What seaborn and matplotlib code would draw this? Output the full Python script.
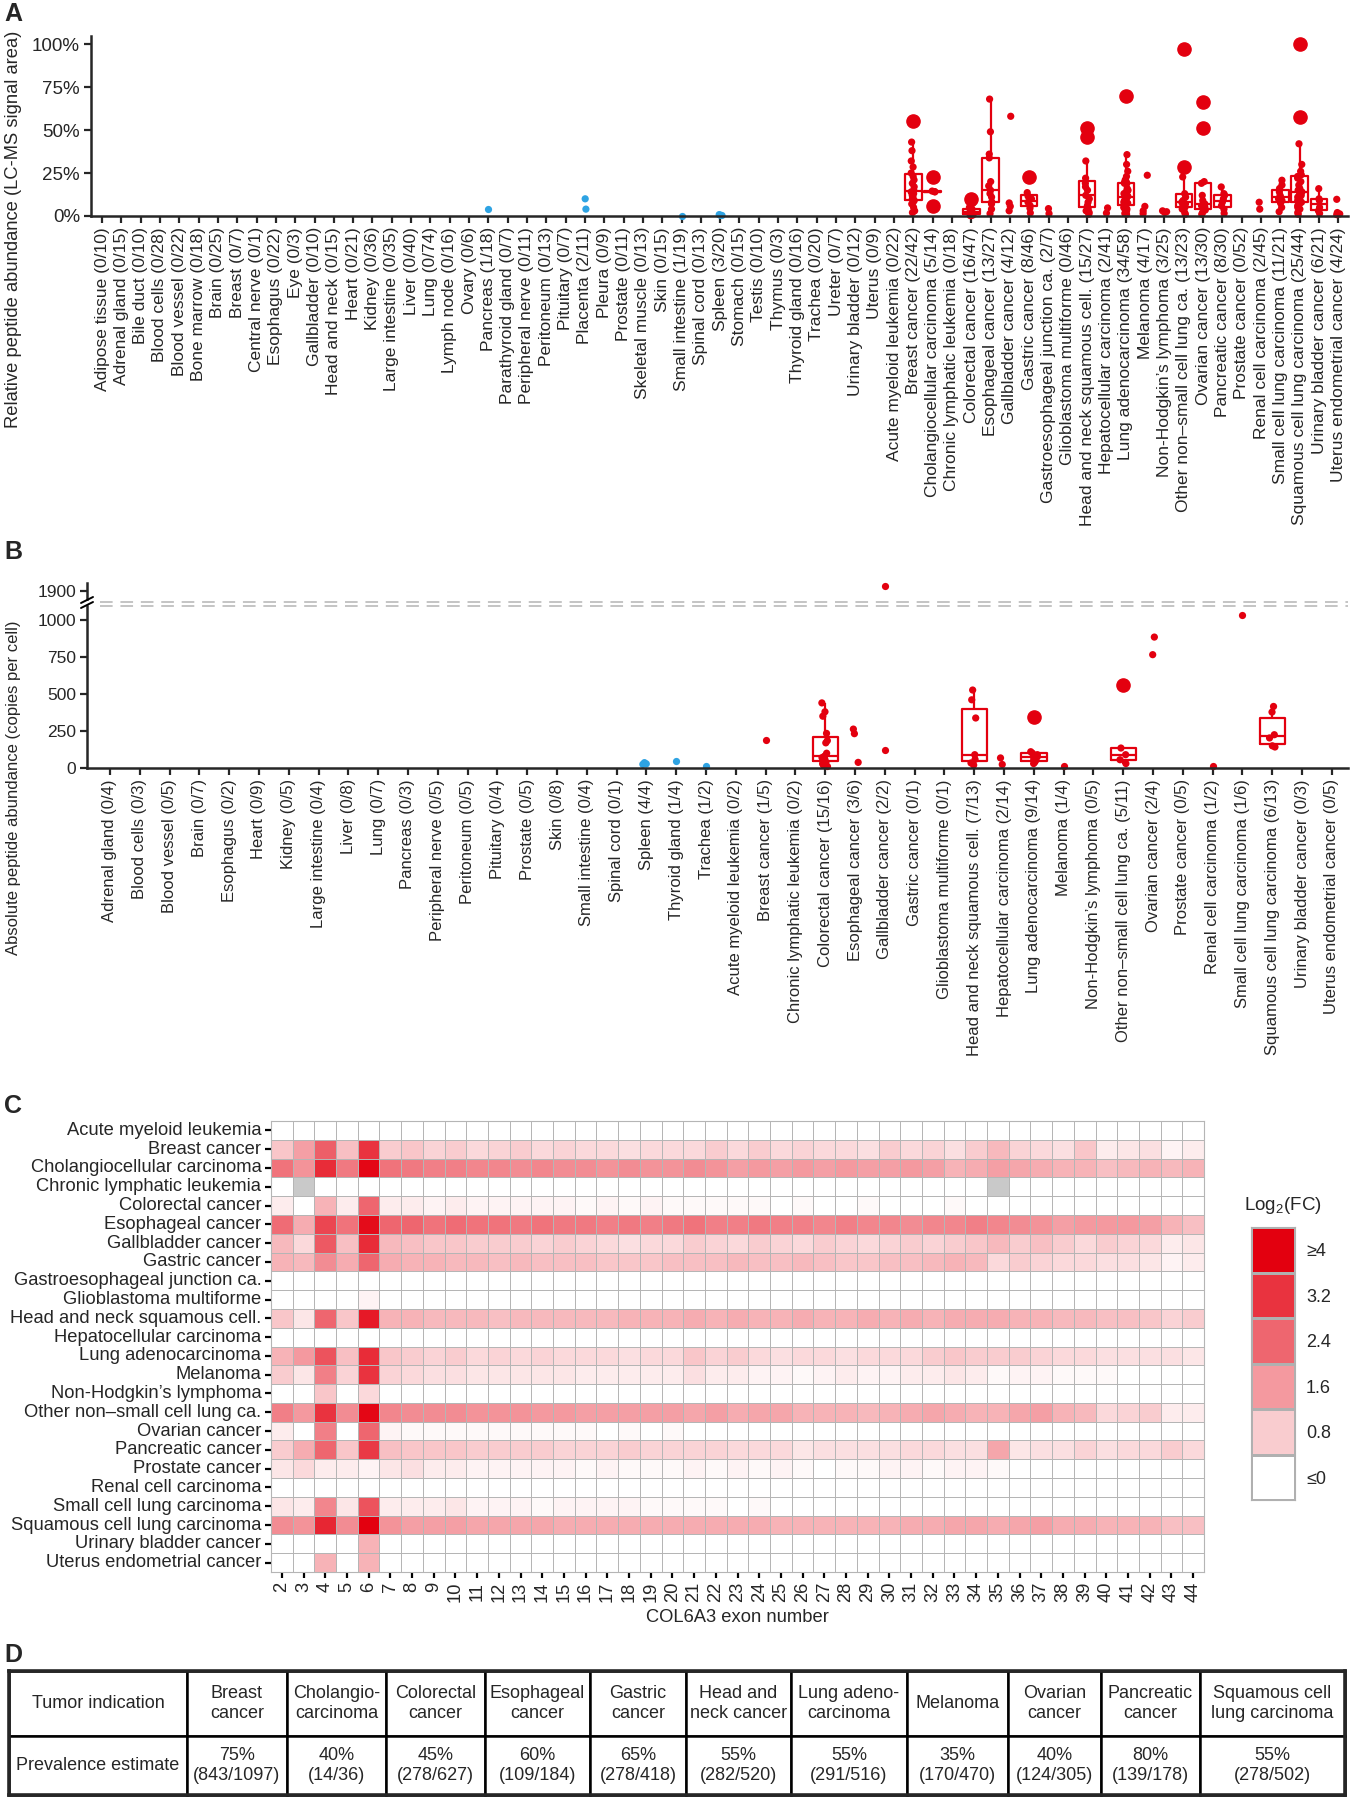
import numpy as np
import pandas as pd
import seaborn as sns
import matplotlib.pyplot as plt
from matplotlib.colors import LinearSegmentedColormap
from matplotlib.lines import Line2D
from matplotlib.ticker import PercentFormatter

sns.set_style('ticks')
plt.rcParams['font.family'] = ['Liberation Sans', 'DejaVu Sans']
plt.rcParams['mathtext.fontset'] = 'custom'
plt.rcParams['mathtext.rm'] = 'Liberation Sans'

RED = '#e3000f'
BLUE = '#2ea3e3'

# ---------------- panel A : relative abundance (LC-MS) ----------------
a_normal = ['Adipose tissue', 'Adrenal gland', 'Bile duct', 'Blood cells', 'Blood vessel',
            'Bone marrow', 'Brain', 'Breast', 'Central nerve', 'Esophagus', 'Eye', 'Gallbladder',
            'Head and neck', 'Heart', 'Kidney', 'Large intestine', 'Liver', 'Lung', 'Lymph node',
            'Ovary', 'Pancreas', 'Parathyroid gland', 'Peripheral nerve', 'Peritoneum', 'Pituitary',
            'Placenta', 'Pleura', 'Prostate', 'Skeletal muscle', 'Skin', 'Small intestine',
            'Spinal cord', 'Spleen', 'Stomach', 'Testis', 'Thymus', 'Thyroid gland', 'Trachea',
            'Ureter', 'Urinary bladder', 'Uterus']
a_normal_n = ['0/10', '0/15', '0/10', '0/28', '0/22', '0/18', '0/25', '0/7', '0/1', '0/22', '0/3',
              '0/10', '0/15', '0/21', '0/36', '0/35', '0/40', '0/74', '0/16', '0/6', '1/18', '0/7',
              '0/11', '0/13', '0/7', '2/11', '0/9', '0/11', '0/13', '0/15', '1/19', '0/13', '3/20',
              '0/15', '0/10', '0/3', '0/16', '0/20', '0/7', '0/12', '0/9']
a_tumor = ['Acute myeloid leukemia', 'Breast cancer', 'Cholangiocellular carcinoma',
           'Chronic lymphatic leukemia', 'Colorectal cancer', 'Esophageal cancer',
           'Gallbladder cancer', 'Gastric cancer', 'Gastroesophageal junction ca.',
           'Glioblastoma multiforme', 'Head and neck squamous cell.', 'Hepatocellular carcinoma',
           'Lung adenocarcinoma', 'Melanoma', 'Non-Hodgkin\u2019s lymphoma',
           'Other non\u2013small cell lung ca.', 'Ovarian cancer', 'Pancreatic cancer',
           'Prostate cancer', 'Renal cell carcinoma', 'Small cell lung carcinoma',
           'Squamous cell lung carcinoma', 'Urinary bladder cancer', 'Uterus endometrial cancer']
a_tumor_n = ['0/22', '22/42', '5/14', '0/18', '16/47', '13/27', '4/12', '8/46', '2/7', '0/46',
             '15/27', '2/41', '34/58', '4/17', '3/25', '13/23', '13/30', '8/30', '0/52', '2/45',
             '11/21', '25/44', '6/21', '4/24']

a_pancreas = [0.043]
a_placenta = [0.10, 0.04]
a_small_intestine = [0.0]
a_spleen = [0.008, 0.005, 0.003]
a_breast_cancer = [0.55, 0.43, 0.38, 0.32, 0.285, 0.25, 0.23, 0.21, 0.19, 0.17, 0.15, 0.14,
                   0.13, 0.12, 0.11, 0.10, 0.09, 0.08, 0.07, 0.05, 0.03, 0.02]
a_cholangio = [0.227, 0.145, 0.142, 0.14, 0.058]
a_colorectal = [0.10, 0.075, 0.06, 0.05, 0.04, 0.035, 0.03, 0.025, 0.02, 0.015, 0.012, 0.01,
                0.008, 0.006, 0.004, 0.002]
a_esophageal = [0.68, 0.49, 0.36, 0.338, 0.2, 0.175, 0.15, 0.13, 0.11, 0.082, 0.07, 0.04, 0.014]
a_gallbladder = [0.58, 0.076, 0.056, 0.03]
a_gastric = [0.227, 0.136, 0.115, 0.10, 0.08, 0.06, 0.045, 0.018]
a_gej = [0.043, 0.014]
a_hnscc = [0.51, 0.46, 0.32, 0.22, 0.19, 0.17, 0.15, 0.12, 0.10, 0.08, 0.06, 0.04, 0.03, 0.02, 0.01]
a_hcc = [0.047, 0.017]
a_luad = [0.70, 0.357, 0.30, 0.26, 0.23, 0.21, 0.20, 0.195, 0.19, 0.19, 0.16, 0.15, 0.145, 0.14,
          0.13, 0.12, 0.115, 0.11, 0.10, 0.095, 0.09, 0.085, 0.08, 0.075, 0.07, 0.065, 0.06,
          0.05, 0.045, 0.04, 0.03, 0.02, 0.015, 0.01]
a_melanoma = [0.237, 0.056, 0.03, 0.014]
a_nhl = [0.03, 0.025, 0.02]
a_onsclc = [0.97, 0.285, 0.227, 0.13, 0.11, 0.09, 0.08, 0.07, 0.06, 0.05, 0.04, 0.02, 0.01]
a_ovarian = [0.664, 0.509, 0.20, 0.19, 0.12, 0.09, 0.07, 0.06, 0.05, 0.04, 0.035, 0.02, 0.01]
a_pancreatic = [0.169, 0.13, 0.12, 0.10, 0.08, 0.06, 0.04, 0.015]
a_rcc = [0.08, 0.04]
a_sclc = [0.208, 0.18, 0.16, 0.14, 0.12, 0.11, 0.10, 0.09, 0.075, 0.05, 0.025]
a_sqclc = [1.0, 0.577, 0.42, 0.30, 0.26, 0.24, 0.23, 0.22, 0.20, 0.18, 0.16, 0.15, 0.14, 0.13,
           0.12, 0.11, 0.10, 0.09, 0.08, 0.07, 0.06, 0.05, 0.04, 0.02, 0.01]
a_bladder = [0.159, 0.10, 0.09, 0.05, 0.03, 0.015]
a_uterus = [0.097, 0.02, 0.012, 0.008]

# ---------------- panel B : absolute abundance (copies per cell) ----------------
b_normal = ['Adrenal gland', 'Blood cells', 'Blood vessel', 'Brain', 'Esophagus', 'Heart',
            'Kidney', 'Large intestine', 'Liver', 'Lung', 'Pancreas', 'Peripheral nerve',
            'Peritoneum', 'Pituitary', 'Prostate', 'Skin', 'Small intestine', 'Spinal cord',
            'Spleen', 'Thyroid gland', 'Trachea']
b_normal_n = ['0/4', '0/3', '0/5', '0/7', '0/2', '0/9', '0/5', '0/4', '0/8', '0/7', '0/3', '0/5',
              '0/5', '0/4', '0/5', '0/8', '0/4', '0/1', '4/4', '1/4', '1/2']
b_tumor = ['Acute myeloid leukemia', 'Breast cancer', 'Chronic lymphatic leukemia',
           'Colorectal cancer', 'Esophageal cancer', 'Gallbladder cancer', 'Gastric cancer',
           'Glioblastoma multiforme', 'Head and neck squamous cell.', 'Hepatocellular carcinoma',
           'Lung adenocarcinoma', 'Melanoma', 'Non-Hodgkin\u2019s lymphoma',
           'Other non\u2013small cell lung ca.', 'Ovarian cancer', 'Prostate cancer',
           'Renal cell carcinoma', 'Small cell lung carcinoma', 'Squamous cell lung carcinoma',
           'Urinary bladder cancer', 'Uterus endometrial cancer']
b_tumor_n = ['0/2', '1/5', '0/2', '15/16', '3/6', '2/2', '0/1', '0/1', '7/13', '2/14', '9/14',
             '1/4', '0/5', '5/11', '2/4', '0/5', '1/2', '1/6', '6/13', '0/3', '0/5']

b_spleen = [36, 32, 28, 25]
b_thyroid = [48]
b_trachea = [15]
b_breast_cancer = [186]
b_colorectal = [440, 380, 350, 234, 185, 170, 100, 80, 70, 60, 50, 40, 30, 20, 10]
b_esophageal = [263, 232, 38]
b_gallbladder = [1934, 119]
b_hnscc = [527, 461, 338, 90, 58, 34, 20]
b_hcc = [68, 24]
b_luad = [342, 110, 100, 90, 75, 60, 50, 40, 30]
b_melanoma = [15]
b_onsclc = [561, 135, 90, 56, 30]
b_ovarian = [885, 766]
b_rcc = [12]
b_sclc = [1034]
b_sqclc = [416, 378, 225, 203, 150, 142]

# ---------------- panel C : log2 fold change per exon ----------------
c_exons = list(range(2, 45))
c_rows = a_tumor
nan = np.nan
r_aml = [0, 0, 0, 0, 0, 0, 0, 0, 0, 0, 0, 0, 0, 0, 0, 0, 0, 0, 0, 0, 0, 0,
         0, 0, 0, 0, 0, 0, 0, 0, 0, 0, 0, 0, 0, 0, 0, 0, 0, 0, 0, 0, 0]
r_breast = [0.9, 1.5, 2.5, 1.0, 3.2, 0.8, 0.9, 0.7, 0.8, 0.6,
            0.7, 0.8, 0.6, 0.7, 0.6, 0.6, 0.5, 0.6, 0.6, 0.6,
            0.8, 0.6, 0.8, 0.6, 0.7, 0.6, 0.6, 0.5, 0.8, 0.6,
            0.7, 0.5, 0.8, 1.1, 0.7, 0.6, 0.5, 0.9, 0.3, 0.4,
            0.5, 0.2, 0.3]
r_cholangio = [2.2, 1.7, 3.3, 2.1, 3.9, 2.2, 2.1, 2.0, 2.0, 1.9,
               1.9, 1.8, 1.9, 1.8, 1.8, 1.7, 1.8, 1.7, 1.7, 1.8,
               1.7, 1.5, 1.6, 1.5, 1.6, 1.5, 1.6, 1.5, 1.5, 1.6,
               1.5, 1.2, 1.3, 1.5, 1.4, 1.3, 1.2, 1.2, 1.0, 1.1,
               1.2, 1.1, 1.2]
r_cll = [0, nan, 0, 0, 0, 0, 0, 0, 0, 0,
         0, 0, 0, 0, 0, 0, 0, 0, 0, 0,
         0, 0, 0, 0, 0, 0, 0, 0, 0, 0,
         0, 0, 0, nan, 0, 0, 0, 0, 0, 0,
         0, 0, 0]
r_colorectal = [0.3, 0.0, 1.2, 0.3, 2.4, 0.3, 0.3, 0.2, 0.3, 0.2,
                0.2, 0.2, 0.2, 0.2, 0.1, 0.2, 0.1, 0.2, 0.1, 0.1,
                0.1, 0.1, 0.1, 0.0, 0.1, 0.0, 0.0, 0.1, 0.0, 0.0,
                0.0, 0.1, 0.0, 0.0, 0.0, 0.0, 0.0, 0.0, 0.0, 0.0,
                0.0, 0.0, 0.0]
r_esophageal = [2.3, 1.3, 2.9, 2.2, 3.8, 2.4, 2.4, 2.2, 2.3, 2.2,
                2.2, 2.1, 2.2, 2.1, 2.1, 2.0, 2.1, 2.0, 2.1, 2.2,
                2.0, 2.0, 2.1, 2.0, 2.0, 1.9, 2.0, 1.9, 1.9, 1.8,
                1.9, 1.9, 2.0, 1.9, 1.8, 1.7, 1.5, 1.6, 1.6, 1.6,
                1.5, 1.2, 1.0]
r_gallbladder = [1.1, 0.6, 2.6, 1.0, 3.3, 1.1, 1.0, 0.9, 0.9, 0.8,
                 0.8, 0.8, 0.7, 0.8, 0.7, 0.6, 0.5, 0.6, 0.6, 0.8,
                 0.7, 0.6, 0.8, 0.7, 0.6, 0.8, 0.7, 0.6, 0.7, 0.8,
                 0.7, 0.8, 0.9, 1.1, 0.8, 1.0, 0.8, 0.6, 0.8, 0.7,
                 0.6, 0.3, 0.4]
r_gastric = [1.2, 1.1, 1.8, 1.3, 2.4, 1.3, 1.2, 1.2, 1.1, 1.1,
             1.0, 1.1, 1.0, 1.0, 1.0, 0.9, 0.9, 0.9, 1.0, 1.0,
             1.0, 1.1, 1.0, 1.0, 1.1, 1.0, 0.9, 0.9, 1.0, 1.0,
             1.1, 1.2, 1.1, 0.6, 0.8, 0.7, 0.6, 0.6, 0.5, 0.5,
             0.4, 0.2, 0.3]
r_gej = [0, 0, 0, 0, 0, 0, 0, 0, 0, 0, 0, 0, 0, 0, 0, 0, 0, 0, 0, 0, 0, 0,
         0, 0, 0, 0, 0, 0, 0, 0, 0, 0, 0, 0, 0, 0, 0, 0, 0, 0, 0, 0, 0]
r_gbm = [0, 0, 0, 0, 0.2, 0, 0, 0, 0, 0, 0, 0, 0, 0, 0, 0, 0, 0, 0, 0, 0, 0,
         0, 0, 0, 0, 0, 0, 0, 0, 0, 0, 0, 0, 0, 0, 0, 0, 0, 0, 0, 0, 0]
r_hnscc = [0.9, 0.4, 2.4, 0.9, 3.6, 1.2, 1.2, 1.1, 1.1, 1.1,
           1.0, 1.1, 1.1, 1.1, 1.1, 1.1, 1.2, 1.2, 1.2, 1.3,
           1.2, 1.3, 1.2, 1.2, 1.3, 1.2, 1.2, 1.3, 1.2, 1.3,
           1.2, 1.3, 1.3, 1.3, 1.2, 1.2, 1.1, 1.1, 1.0, 1.0,
           0.9, 0.7, 0.8]
r_hcc = [0, 0, 0, 0, 0, 0, 0, 0, 0, 0, 0, 0, 0, 0, 0, 0, 0, 0, 0, 0, 0, 0,
         0, 0, 0, 0, 0, 0, 0, 0, 0, 0, 0, 0, 0, 0, 0, 0, 0, 0, 0, 0, 0]
r_luad = [1.2, 1.6, 2.7, 1.0, 3.3, 0.9, 0.8, 0.7, 0.8, 0.6,
          0.7, 0.6, 0.7, 0.6, 0.6, 0.6, 0.5, 0.6, 0.6, 0.9,
          0.7, 0.8, 0.6, 0.5, 0.6, 0.6, 0.5, 0.6, 0.6, 0.6,
          0.8, 0.9, 0.8, 0.8, 0.8, 0.7, 0.6, 0.6, 0.5, 0.5,
          0.5, 0.5, 0.4]
r_melanoma = [0.8, 0.4, 2.0, 0.7, 3.2, 0.7, 0.6, 0.5, 0.5, 0.4,
              0.4, 0.4, 0.4, 0.4, 0.3, 0.3, 0.3, 0.3, 0.3, 0.5,
              0.3, 0.3, 0.2, 0.2, 0.1, 0.2, 0.3, 0.2, 0.2, 0.3,
              0.3, 0.4, 0.3, 0.1, 0.2, 0.2, 0.1, 0.1, 0.1, 0.0,
              0.0, 0.0, 0.0]
r_nhl = [0, 0, 0.9, 0, 0.6, 0, 0, 0, 0, 0, 0, 0, 0, 0, 0, 0, 0, 0, 0, 0, 0, 0,
         0, 0, 0, 0, 0, 0, 0, 0, 0, 0, 0, 0, 0, 0, 0, 0, 0, 0, 0, 0, 0]
r_onsclc = [2.0, 1.6, 3.2, 1.8, 3.9, 1.9, 1.8, 1.8, 1.8, 1.7,
            1.7, 1.7, 1.6, 1.6, 1.5, 1.5, 1.5, 1.5, 1.5, 1.4,
            1.5, 1.3, 1.4, 1.4, 1.2, 1.2, 1.2, 1.1, 1.2, 1.3,
            1.4, 1.3, 1.2, 1.2, 1.4, 1.5, 1.2, 1.1, 0.6, 0.7,
            0.8, 0.3, 0.3]
r_ovarian = [0.3, 0.0, 2.0, 0.0, 2.4, 0.2, 0.1, 0.1, 0.1, 0.1,
             0.1, 0.1, 0.1, 0.1, 0.1, 0.0, 0.1, 0.0, 0.1, 0.0,
             0, 0, 0, 0, 0, 0, 0, 0, 0, 0,
             0, 0, 0, 0, 0, 0, 0, 0, 0, 0,
             0, 0, 0]
r_pancreatic = [0.8, 1.3, 2.4, 0.9, 3.1, 1.0, 0.9, 0.9, 0.9, 0.8,
                0.8, 0.8, 0.8, 0.7, 0.7, 0.7, 0.8, 0.7, 0.7, 0.7,
                0.7, 0.6, 0.6, 0.6, 0.4, 0.5, 0.5, 0.5, 0.5, 0.6,
                0.6, 0.5, 0.5, 1.4, 0.4, 0.5, 0.5, 0.7, 0.5, 0.6,
                0.6, 0.8, 0.6]
r_prostate = [0.4, 0.6, 0.3, 0.3, 0.2, 0.4, 0.5, 0.3, 0.3, 0.2,
              0.2, 0.2, 0.2, 0.2, 0.1, 0.2, 0.1, 0.1, 0.1, 0.2,
              0.1, 0.2, 0.1, 0.2, 0.1, 0.0, 0.1, 0.1, 0.2, 0.2,
              0.1, 0.2, 0.2, 0.1, 0.0, 0.0, 0.0, 0.0, 0.0, 0.0,
              0.0, 0.0, 0.0]
r_rcc = [0, 0, 0, 0, 0, 0, 0, 0, 0, 0, 0, 0, 0, 0, 0, 0, 0, 0, 0, 0, 0, 0,
         0, 0, 0, 0, 0, 0, 0, 0, 0, 0, 0, 0, 0, 0, 0, 0, 0, 0, 0, 0, 0]
r_sclc = [0.4, 0.3, 1.9, 0.4, 2.7, 0.3, 0.3, 0.3, 0.4, 0.2,
          0.2, 0.2, 0.1, 0.2, 0.2, 0.2, 0.2, 0.1, 0.1, 0.1,
          0.1, 0.0, 0.1, 0.0, 0.0, 0.0, 0.0, 0.0, 0.0, 0.0,
          0, 0, 0, 0, 0, 0, 0, 0, 0, 0,
          0, 0, 0]
r_sqclc = [1.8, 1.7, 3.4, 1.8, 4.0, 1.7, 1.5, 1.5, 1.5, 1.4,
           1.4, 1.4, 1.4, 1.3, 1.3, 1.3, 1.3, 1.3, 1.3, 1.3,
           1.3, 1.3, 1.3, 1.2, 1.2, 1.2, 1.2, 1.2, 1.2, 1.3,
           1.3, 1.4, 1.4, 1.3, 1.4, 1.5, 1.3, 1.3, 1.2, 1.2,
           1.2, 1.0, 1.0]
r_bladder = [0, 0, 0, 0, 1.2, 0, 0, 0, 0, 0, 0, 0, 0, 0, 0, 0, 0, 0, 0, 0, 0, 0,
             0, 0, 0, 0, 0, 0, 0, 0, 0, 0, 0, 0, 0, 0, 0, 0, 0, 0, 0, 0, 0]
r_uterus = [0, 0, 1.2, 0, 1.2, 0, 0, 0, 0, 0, 0, 0, 0, 0, 0, 0, 0, 0, 0, 0, 0, 0,
            0, 0, 0, 0, 0, 0, 0, 0, 0, 0, 0, 0, 0, 0, 0, 0, 0, 0, 0, 0, 0]

c_legend_values = [4, 3.2, 2.4, 1.6, 0.8, 0]
c_legend_labels = ['\u22654', '3.2', '2.4', '1.6', '0.8', '\u22640']

# ---------------- panel D : prevalence table ----------------
d_tumors = ['Breast\ncancer', 'Cholangio-\ncarcinoma', 'Colorectal\ncancer', 'Esophageal\ncancer',
            'Gastric\ncancer', 'Head and\nneck cancer', 'Lung adeno-\ncarcinoma', 'Melanoma',
            'Ovarian\ncancer', 'Pancreatic\ncancer', 'Squamous cell\nlung carcinoma']
d_pct = [75, 40, 45, 60, 65, 55, 55, 35, 40, 80, 55]
d_pos = [843, 14, 278, 109, 278, 282, 291, 170, 124, 139, 278]
d_tot = [1097, 36, 627, 184, 418, 520, 516, 470, 305, 178, 502]


W, H = 1353, 1800


def box(x0, y0, x1, y1):
    # pixel box (top-left origin) -> figure fraction rect
    return [x0 / W, 1 - y1 / H, (x1 - x0) / W, (y1 - y0) / H]


def long_table(points, names, counts, normals):
    labels = [f'{n} ({c})' for n, c in zip(names, counts)]
    rows = []
    for name, vals in points.items():
        lab = labels[names.index(name)]
        kind = 'normal' if name in normals else 'tumor'
        for v in vals:
            rows.append((lab, kind, v))
    df = pd.DataFrame(rows, columns=['label', 'kind', 'value'])
    df['n'] = df.groupby('label')['value'].transform('size')
    return df, labels


def style_axis(ax, fs=12):
    sns.despine(ax=ax)
    for s in ['left', 'bottom']:
        ax.spines[s].set_linewidth(1.8)
        ax.spines[s].set_zorder(5)
    ax.tick_params(direction='out', length=5, width=1.6, labelsize=fs, pad=3)


def draw_groups(ax, df, order, boxes=True):
    if boxes:
        sns.boxplot(data=df[df['n'] >= 5], x='label', y='value', order=order, color=RED,
                    fill=False, width=0.85, linewidth=1.6, showcaps=False, whis=1.5,
                    flierprops=dict(marker='o', markerfacecolor=RED, markeredgecolor=RED,
                                    markersize=9.5), ax=ax)
    sns.stripplot(data=df, x='label', y='value', order=order, hue='kind',
                  palette={'normal': BLUE, 'tumor': RED}, size=5.2, jitter=0.12,
                  legend=False, ax=ax, zorder=3)
    for art in ax.collections + ax.lines:
        art.set_clip_on(False)


np.random.seed(3)
fig = plt.figure(figsize=(W / 100, H / 100), dpi=100)

# ---------- A ----------
a_points = {'Pancreas': a_pancreas, 'Placenta': a_placenta, 'Small intestine': a_small_intestine,
            'Spleen': a_spleen, 'Breast cancer': a_breast_cancer,
            'Cholangiocellular carcinoma': a_cholangio, 'Colorectal cancer': a_colorectal,
            'Esophageal cancer': a_esophageal, 'Gallbladder cancer': a_gallbladder,
            'Gastric cancer': a_gastric, 'Gastroesophageal junction ca.': a_gej,
            'Head and neck squamous cell.': a_hnscc, 'Hepatocellular carcinoma': a_hcc,
            'Lung adenocarcinoma': a_luad, 'Melanoma': a_melanoma,
            'Non-Hodgkin\u2019s lymphoma': a_nhl, 'Other non\u2013small cell lung ca.': a_onsclc,
            'Ovarian cancer': a_ovarian, 'Pancreatic cancer': a_pancreatic,
            'Renal cell carcinoma': a_rcc, 'Small cell lung carcinoma': a_sclc,
            'Squamous cell lung carcinoma': a_sqclc, 'Urinary bladder cancer': a_bladder,
            'Uterus endometrial cancer': a_uterus}
df_a, a_labels = long_table(a_points, a_normal + a_tumor, a_normal_n + a_tumor_n, a_normal)

axA = fig.add_axes(box(91, 36, 1348, 216))
draw_groups(axA, df_a, a_labels)
axA.set_xlim(-0.57, 64.5)
axA.set_ylim(0, 1.047)
axA.set_yticks([0, 0.25, 0.5, 0.75, 1.0])
axA.yaxis.set_major_formatter(PercentFormatter(1.0, decimals=0))
axA.set_xticks(range(len(a_labels)))
axA.set_xlabel('')
axA.set_ylabel('')
style_axis(axA, fs=13.5)
axA.set_xticklabels(a_labels, rotation=90, fontsize=12.5)
fig.text(14 / W, 1 - 229 / H, 'Relative peptide abundance (LC-MS signal area)', rotation=90,
         ha='center', va='center', fontsize=13.2)

# ---------- B (broken y axis) ----------
b_points = {'Spleen': b_spleen, 'Thyroid gland': b_thyroid, 'Trachea': b_trachea,
            'Breast cancer': b_breast_cancer, 'Colorectal cancer': b_colorectal,
            'Esophageal cancer': b_esophageal, 'Gallbladder cancer': b_gallbladder,
            'Head and neck squamous cell.': b_hnscc, 'Hepatocellular carcinoma': b_hcc,
            'Lung adenocarcinoma': b_luad, 'Melanoma': b_melanoma,
            'Other non\u2013small cell lung ca.': b_onsclc, 'Ovarian cancer': b_ovarian,
            'Renal cell carcinoma': b_rcc, 'Small cell lung carcinoma': b_sclc,
            'Squamous cell lung carcinoma': b_sqclc}
df_b, b_labels = long_table(b_points, b_normal + b_tumor, b_normal_n + b_tumor_n, b_normal)
b_split = 1500

axBt = fig.add_axes(box(87, 583, 1348, 599))
axB = fig.add_axes(box(87, 606, 1348, 768))
draw_groups(axB, df_b[df_b['value'] < b_split], b_labels)
draw_groups(axBt, df_b[df_b['value'] >= b_split], b_labels, boxes=False)
for ax in (axB, axBt):
    ax.set_xlim(-0.77, 41.54)
    ax.set_xlabel('')
    ax.set_ylabel('')
    style_axis(ax, fs=12.5)
axB.set_ylim(0, 1095)
axB.set_yticks([0, 250, 500, 750, 1000])
axB.set_xticks(range(len(b_labels)))
axB.set_xticklabels(b_labels, rotation=90, fontsize=12)
axBt.set_ylim(1839, 1954)
axBt.set_yticks([1900])
axBt.set_xticks([])
axBt.spines['bottom'].set_visible(False)

# break marks on the y axis and dashed break lines across the panel
for yy in (600, 605):
    fig.add_artist(Line2D([81 / W, 93 / W], [1 - (yy + 3) / H, 1 - (yy - 3) / H],
                          color='black', lw=1.4, transform=fig.transFigure))
for yy in (601.5, 605.5):
    fig.add_artist(Line2D([100 / W, 1348 / W], [1 - yy / H, 1 - yy / H], color='#c4c4c4',
                          lw=1.4, ls=(0, (6.5, 4)), transform=fig.transFigure))
fig.text(14 / W, 1 - 788 / H, 'Absolute peptide abundance (copies per cell)', rotation=90,
         ha='center', va='center', fontsize=12)

# ---------- C heatmap ----------
c_matrix = np.array([r_aml, r_breast, r_cholangio, r_cll, r_colorectal, r_esophageal,
                     r_gallbladder, r_gastric, r_gej, r_gbm, r_hnscc, r_hcc, r_luad, r_melanoma,
                     r_nhl, r_onsclc, r_ovarian, r_pancreatic, r_prostate, r_rcc, r_sclc,
                     r_sqclc, r_bladder, r_uterus], dtype=float)
fc_cmap = LinearSegmentedColormap.from_list('fc', ['#ffffff', RED])

axC = fig.add_axes(box(271, 1121, 1204, 1572))
axC.set_facecolor('#c9c9c9')
sns.heatmap(c_matrix, cmap=fc_cmap, vmin=0, vmax=4, cbar=False, linewidths=0.7,
            linecolor='#b5b5b5', xticklabels=c_exons, yticklabels=c_rows, ax=axC)
axC.tick_params(left=True, bottom=True, length=4, width=1.6, color='black', labelsize=13.2,
                pad=3)
axC.set_yticklabels(c_rows, rotation=0)
axC.set_xticklabels(c_exons, rotation=90)
for s in axC.spines.values():
    s.set_visible(True)
    s.set_color('#b5b5b5')
    s.set_linewidth(0.8)
axC.set_xlabel('COL6A3 exon number', fontsize=13.2, labelpad=5)

axL = fig.add_axes(box(1251, 1227, 1295, 1500))
sns.heatmap(np.array(c_legend_values, dtype=float)[:, None], cmap=fc_cmap, vmin=0, vmax=4,
            cbar=False, linewidths=1.0, linecolor='#b0b0b0', xticklabels=False,
            yticklabels=c_legend_labels, ax=axL)
axL.yaxis.tick_right()
axL.tick_params(length=0, labelsize=13, pad=8)
axL.set_yticklabels(c_legend_labels, rotation=0)
for s in axL.spines.values():
    s.set_visible(True)
    s.set_color('#b0b0b0')
fig.text(1283 / W, 1 - 1206 / H, 'Log$_2$(FC)', ha='center', va='center', fontsize=13.5)

# ---------- D table ----------
axD = fig.add_axes(box(9, 1671, 1345, 1795))
axD.set_xticks([])
axD.set_yticks([])
for s in axD.spines.values():
    s.set_linewidth(2.6)
d_prev = [f'{p}%\n({a}/{b})' for p, a, b in zip(d_pct, d_pos, d_tot)]
d_col_w = [178, 100, 99, 99, 105, 96, 105, 116, 101, 93, 99, 145]
tab = axD.table(cellText=[['Tumor indication'] + d_tumors, ['Prevalence estimate'] + d_prev],
                colWidths=[w / sum(d_col_w) for w in d_col_w], cellLoc='center',
                bbox=[0, 0, 1, 1])
tab.auto_set_font_size(False)
tab.set_fontsize(13)
for (r, c), cell in tab.get_celld().items():
    cell.set_linewidth(1.8)
    cell.set_height(65 if r == 0 else 59)

# panel letters
for letter, ytop in [('A', 2), ('B', 540), ('C', 1094), ('D', 1643)]:
    fig.text(4 / W, 1 - ytop / H, letter, ha='left', va='top', fontsize=18, fontweight='bold')

fig.savefig('out.png', dpi=100)
